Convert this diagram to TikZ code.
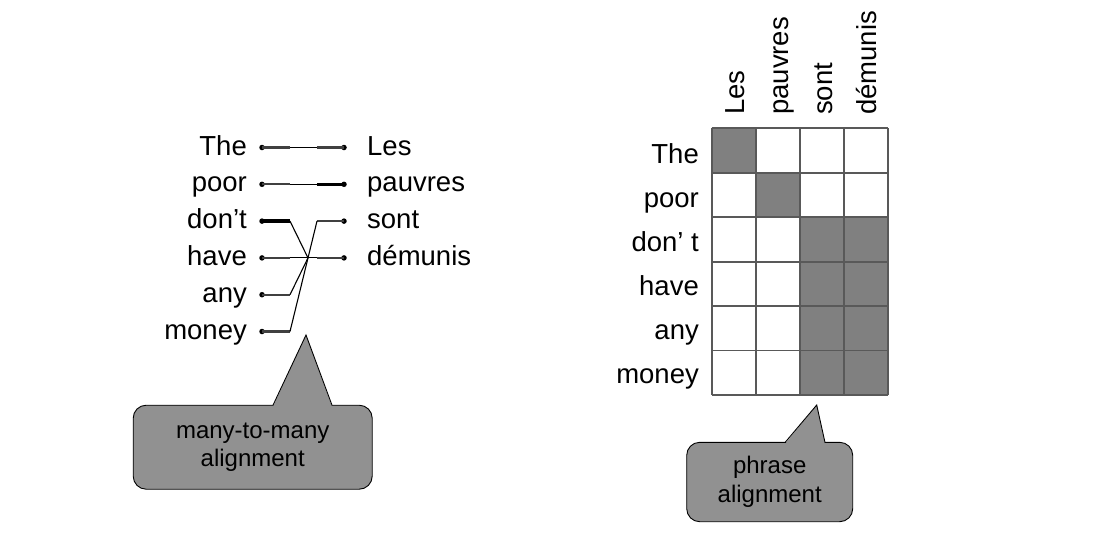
\documentclass[tikz,border=0pt]{standalone}
\usepackage{fontspec}
\setmainfont{Liberation Sans}
\usetikzlibrary{positioning}

\begin{document}
\begin{tikzpicture}[x=1pt,y=-1pt,
    word/.style={font=\fontsize{27.5}{32}\selectfont,inner sep=0pt},
    eng/.style={word,anchor=base east},
    fra/.style={word,anchor=base west},
    colword/.style={word,rotate=90,anchor=base west},
    dot/.style={circle,fill=black,inner sep=0pt,minimum size=5.5pt},
    stub/.style={line width=2.2pt,draw=black!75},
    bold stub/.style={line width=3.4pt,draw=black},
    link/.style={line width=1.1pt},
    callout/.style={fill=black!43,draw=black,line width=0.9pt,rounded corners=13pt,
      font=\fontsize{24}{28.5}\selectfont,align=center},
    pointer/.style={fill=black!43},
    cellon/.style={fill=black!50},
    gridline/.style={draw=black!65,line width=1.8pt}]
    \useasboundingbox (0,0) rectangle (1115,539);

    % left: word links
    \node[eng] (the) at (247,155) {The};
    \node[eng] (poor) at (247,191.8) {poor};
    \node[eng] (dont) at (247,228.6) {don’t};
    \node[eng] (have) at (247,265.4) {have};
    \node[eng] (any) at (247,302.2) {any};
    \node[eng] (money) at (247,339) {money};
    \node[fra] (les) at (367,155) {Les};
    \node[fra] (pauvres) at (367,191.8) {pauvres};
    \node[fra] (sont) at (367,228.6) {sont};
    \node[fra] (demunis) at (367,265.4) {démunis};

    \node[dot] (the d) at (262,147.5) {};
    \node[dot] (poor d) at (262,184.3) {};
    \node[dot] (dont d) at (262,221.1) {};
    \node[dot] (have d) at (262,257.9) {};
    \node[dot] (any d) at (262,294.7) {};
    \node[dot] (money d) at (262,331.5) {};
    \node[dot] (les d) at (344,147.5) {};
    \node[dot] (pauvres d) at (344,184.3) {};
    \node[dot] (sont d) at (344,221.1) {};
    \node[dot] (demunis d) at (344,257.9) {};

    \coordinate (the e) at (290,147.5);
    \coordinate (poor e) at (290,184.3);
    \coordinate (dont e) at (290,221.1);
    \coordinate (have e) at (290,257.9);
    \coordinate (any e) at (290,294.7);
    \coordinate (money e) at (290,331.5);
    \coordinate (les e) at (317,147.5);
    \coordinate (pauvres e) at (317,184.3);
    \coordinate (sont e) at (317,221.1);
    \coordinate (demunis e) at (317,257.9);
    \coordinate (cross) at (308,257.9);

    \draw[stub] (the d.center) -- (the e) (les e) -- (les d.center);
    \draw[stub] (poor d.center) -- (poor e);
    \draw[bold stub] (pauvres e) -- (pauvres d.center);
    \draw[bold stub] (dont d.center) -- (dont e);
    \draw[stub] (have d.center) -- (have e) (demunis e) -- (demunis d.center);
    \draw[stub] (any d.center) -- (any e) (money d.center) -- (money e);
    \draw[stub] (sont e) -- (sont d.center);

    \draw[link] (the e) -- (les e);
    \draw[link] (poor e) -- (pauvres e);
    \draw[link] (have e) -- (demunis e);
    \draw[link] (dont e) -- (cross) -- (any e);
    \draw[link] (money e) -- (sont e);

    % left callout
    \node[callout,minimum width=239pt,minimum height=84pt] (mmbox) at (252.7,447.2) {many-to-many\\alignment};
    \coordinate (mmtip) at (306,335);
    \fill[pointer] (273,406.5) -- (mmtip) -- (332,406.5) -- cycle;
    \draw[line width=0.9pt] (273,405.2) -- (mmtip) -- (332,405.2);

    % right: alignment matrix
    \begin{scope}[shift={(711.7,128.3)},x=44.15pt,y=-44.45pt]
      \fill[cellon] (0,0) rectangle (1,1) (1,1) rectangle (2,2) (2,2) rectangle (4,6);
      \foreach \i in {0,...,4} \draw[gridline] (\i,0) -- (\i,6);
      \foreach \j in {0,...,6} \draw[gridline] (0,\j) -- (4,\j);
    \end{scope}

    \node[eng] (r the) at (699,163.3) {The};
    \node[eng] (r poor) at (699,207.3) {poor};
    \node[eng] (r dont) at (699,251.3) {don’ t};
    \node[eng] (r have) at (699,295.3) {have};
    \node[eng] (r any) at (699,339.3) {any};
    \node[eng] (r money) at (699,383.3) {money};
    \node[colword] (c les) at (744,115) {Les};
    \node[colword] (c pauvres) at (788.2,115) {pauvres};
    \node[colword] (c sont) at (832.3,115) {sont};
    \node[colword] (c demunis) at (876.5,115) {démunis};

    % right callout
    \node[callout,minimum width=166pt,minimum height=79.4pt] (phbox) at (769.7,482) {phrase\\alignment};
    \coordinate (phtip) at (816.7,405);
    \fill[pointer] (785,443.8) -- (phtip) -- (825,443.8) -- cycle;
    \draw[line width=0.9pt] (785,442.5) -- (phtip) -- (825,442.5);
\end{tikzpicture}
\end{document}
